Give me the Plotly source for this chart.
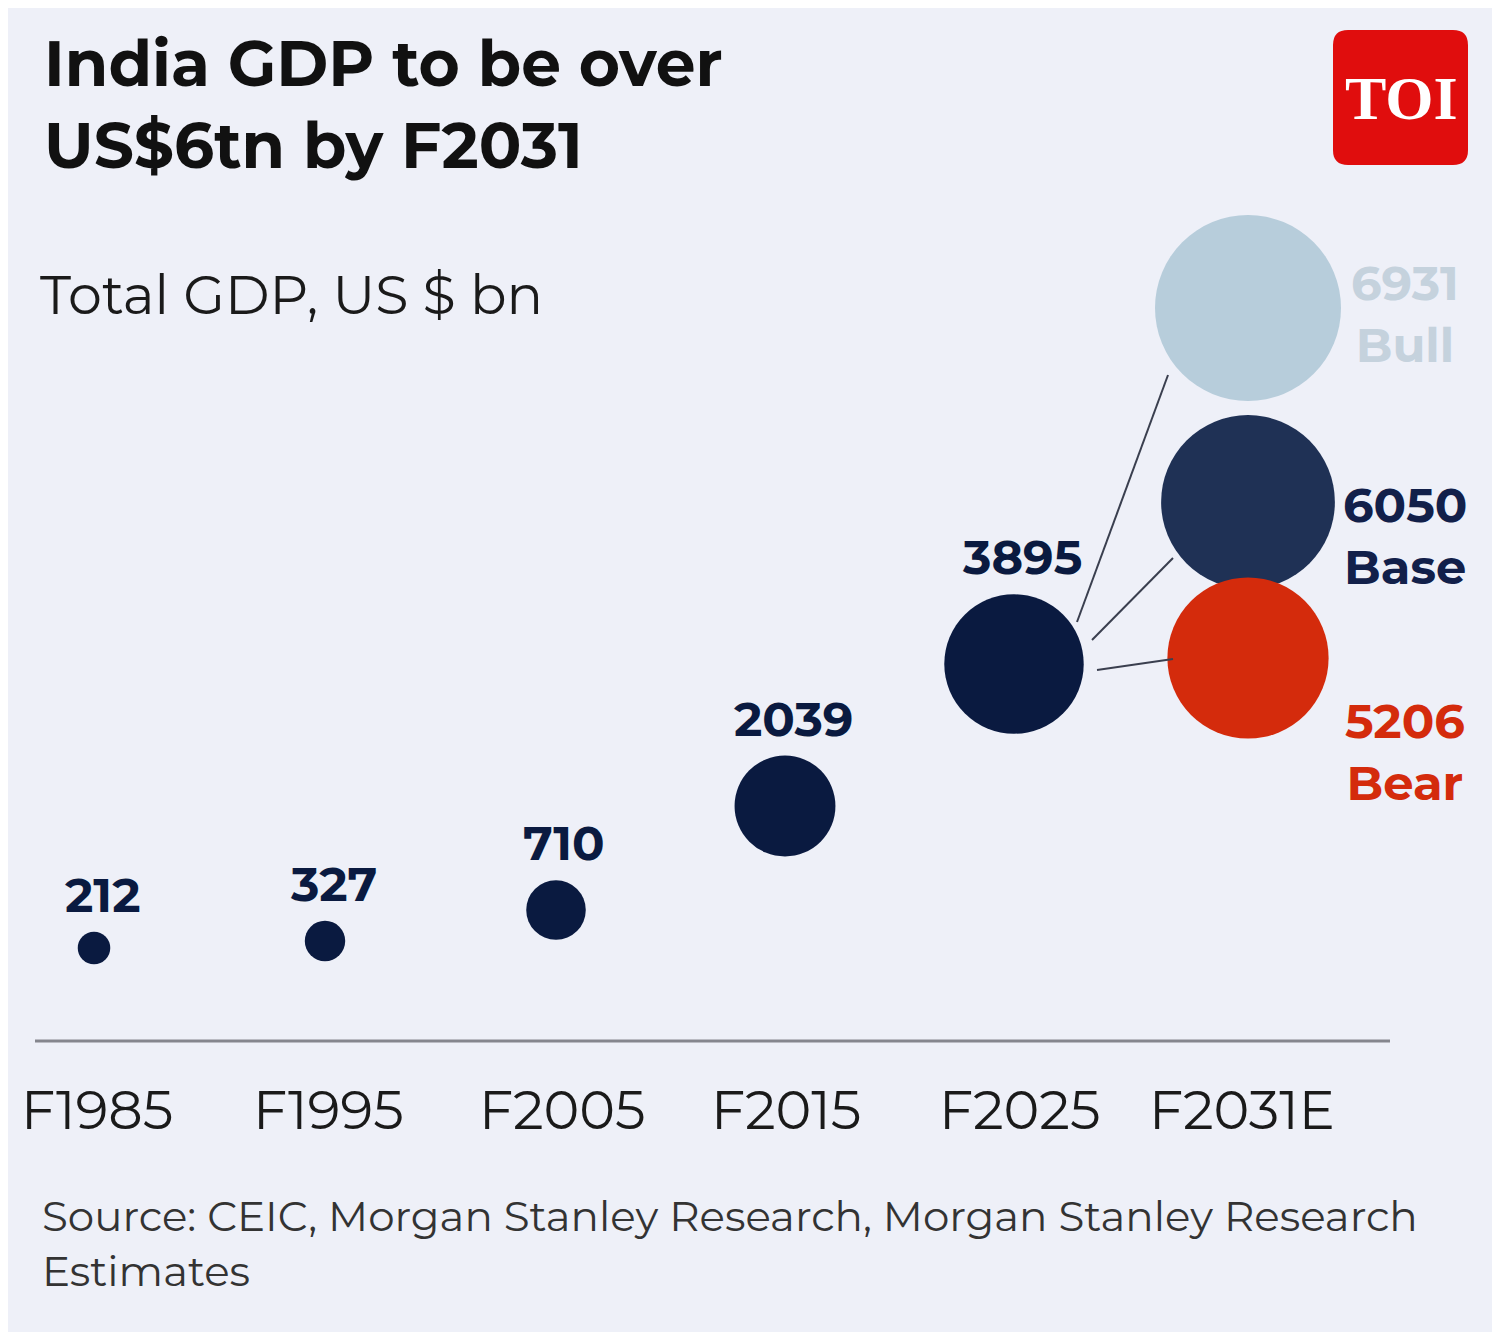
import plotly.graph_objects as go

# ---- data ----
years = ["F1985", "F1995", "F2005", "F2015", "F2025"]
gdp = [212, 327, 710, 2039, 3895]
scenarios = ["Bull", "Base", "Bear"]
scenario_gdp = [6931, 6050, 5206]
forecast_year = "F2031E"

# ---- layout helpers (pixel space, y down) ----
x_pos = [94, 325, 556, 785, 1014]
y_pos = [948, 941, 910, 806, 664]
x_fc = 1248
y_fc = [308, 502, 658]
NAVY = "#0a1a40"
sc_colors = ["#b7cddb", "#1f3155", "#d42b0c"]
lbl_colors = ["#c5d2dd", "#12204a", "#d42b0c"]
BG = "#eef0f8"
FONT = "Montserrat, Lato, 'Open Sans', sans-serif"

sizeref = 2 * 6931 / 186 ** 2
OFF = 8  # page body margin


def radius(v):
    return (2 * v / sizeref) ** 0.5 / 2


fig = go.Figure()
fig.add_trace(go.Scatter(
    x=x_pos, y=y_pos, mode="markers",
    marker=dict(size=gdp, sizemode="area", sizeref=sizeref, color=NAVY, opacity=1, line=dict(width=0)),
    showlegend=False, hoverinfo="skip"))
fig.add_trace(go.Scatter(
    x=[x_fc] * 3, y=y_fc, mode="markers",
    marker=dict(size=scenario_gdp, sizemode="area", sizeref=sizeref, color=sc_colors, opacity=1,
                line=dict(width=0)),
    showlegend=False, hoverinfo="skip"))

ann = []
# value labels above the historical bubbles
for x, y, v in zip(x_pos, y_pos, gdp):
    ann.append(dict(x=x + 8, y=y - radius(v) - 6, text=f"<b>{v}</b>", showarrow=False,
                    yanchor="bottom", font=dict(size=48, color=NAVY, family=FONT)))
# scenario labels
sc_label_y = [314, 536, 752]
for s, v, y, c in zip(scenarios, scenario_gdp, sc_label_y, lbl_colors):
    ann.append(dict(x=1405, y=y, text=f"<b>{v}</b><br><b>{s}</b>", showarrow=False,
                    align="center", font=dict(size=48, color=c, family=FONT)))
# x categories
tick_x = [97, 328, 562, 786, 1020, 1242]
for x, t in zip(tick_x, years + [forecast_year]):
    ann.append(dict(x=x, y=1110, text=t, showarrow=False,
                    font=dict(size=54, color="#1a1a1a", family=FONT)))
# titles
ann += [
    dict(x=42, y=104, text="<b>India GDP to be over<br>US$6tn by F2031</b>", showarrow=False,
         xanchor="left", align="left", font=dict(size=63, color="#111111", family=FONT)),
    dict(x=38, y=295, text="Total GDP, US $ bn", showarrow=False, xanchor="left",
         font=dict(size=54, color="#1a1a1a", family=FONT)),
    dict(x=40, y=1243, text="Source: CEIC, Morgan Stanley Research, Morgan Stanley Research<br>Estimates",
         showarrow=False, xanchor="left", align="left",
         font=dict(size=42, color="#333333", family=FONT)),
    dict(x=1401, y=98, text="<b>TOI</b>", showarrow=False,
         font=dict(size=62, color="white", family="Liberation Serif, serif")),
]

shapes = [
    dict(type="line", x0=35, x1=1390, y0=1041, y1=1041, line=dict(color="#85868e", width=3)),
    dict(type="line", x0=1077, y0=622, x1=1168, y1=375, line=dict(color="#3a3f4f", width=2)),
    dict(type="line", x0=1092, y0=640, x1=1173, y1=558, line=dict(color="#3a3f4f", width=2)),
    dict(type="line", x0=1097, y0=670, x1=1173, y1=659, line=dict(color="#3a3f4f", width=2)),
    dict(type="path", path="M 1348 30 L 1453 30 Q 1468 30 1468 45 L 1468 150 Q 1468 165 1453 165 "
         "L 1348 165 Q 1333 165 1333 150 L 1333 45 Q 1333 30 1348 30 Z",
         fillcolor="#e00d0d", line=dict(width=0), layer="below"),
]

fig.update_layout(
    width=1500, height=1332, margin=dict(l=0, r=0, t=0, b=0),
    paper_bgcolor=BG, plot_bgcolor=BG,
    xaxis=dict(range=[OFF, 1500 + OFF], visible=False, fixedrange=True),
    yaxis=dict(range=[1332 + OFF, OFF], visible=False, fixedrange=True),
    annotations=ann, shapes=shapes,
)

fig.write_html("out.html")
